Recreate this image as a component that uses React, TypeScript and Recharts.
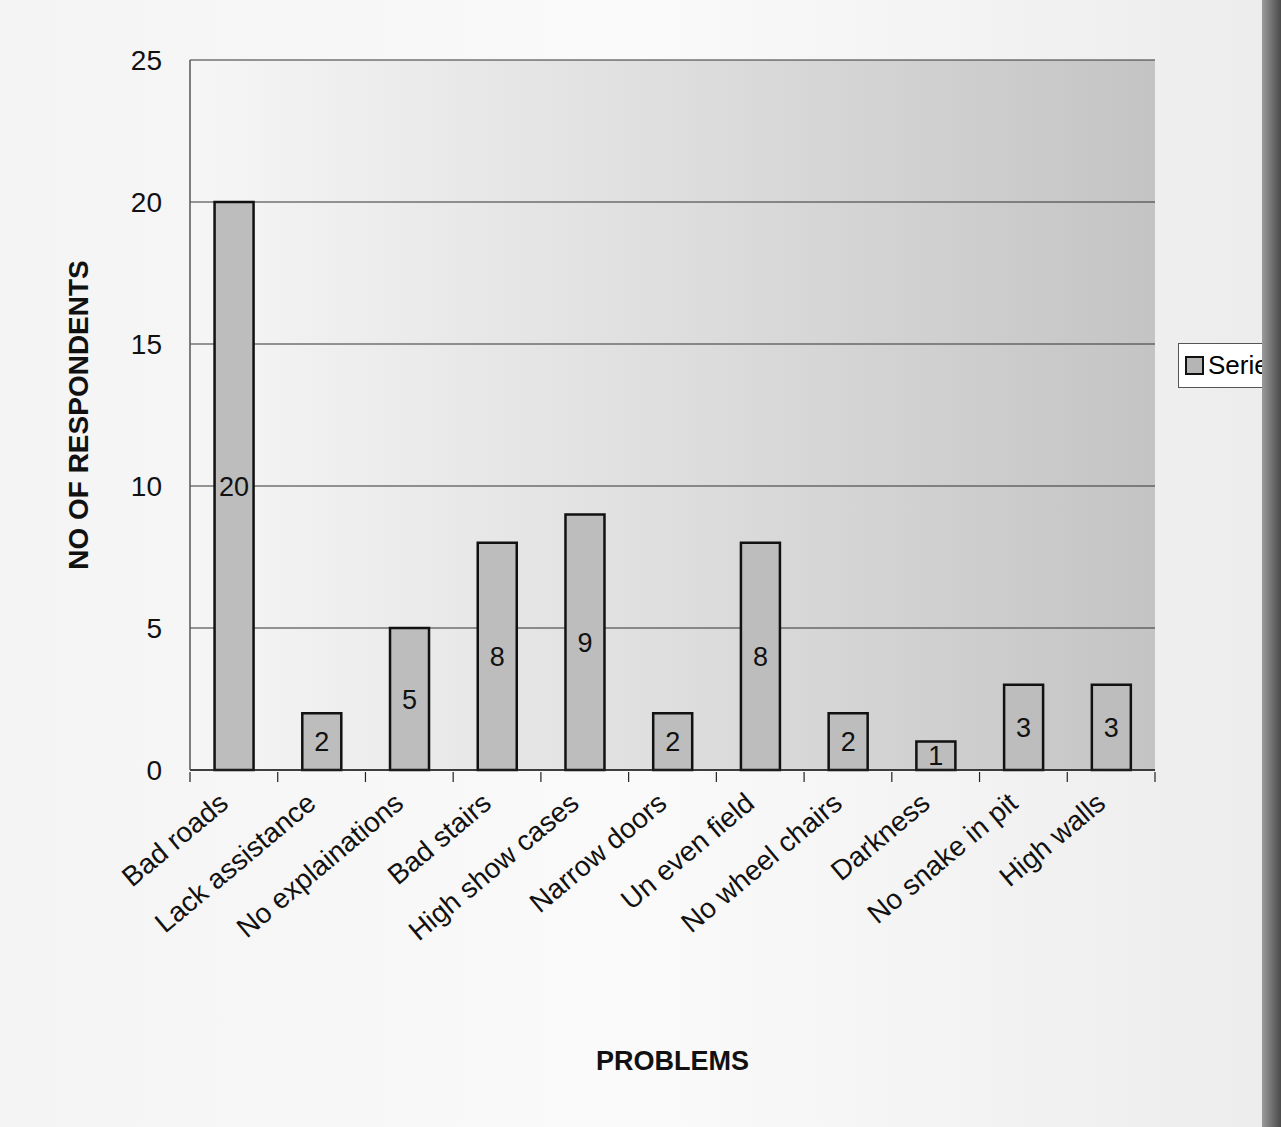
import React from 'react';
import { BarChart, Bar, XAxis, YAxis, CartesianGrid, LabelList, Label } from 'recharts';

const categories = [
  'Bad roads',
  'Lack assistance',
  'No explainations',
  'Bad stairs',
  'High show cases',
  'Narrow doors',
  'Un even field',
  'No wheel chairs',
  'Darkness',
  'No snake in pit',
  'High walls',
];
const series1 = [20, 2, 5, 8, 9, 2, 8, 2, 1, 3, 3];
const yTicks = [0, 5, 10, 15, 20, 25];

const data = categories.map((name, i) => ({ name, Series1: series1[i] }));

const FONT = 'Liberation Sans, Arial, sans-serif';
const CHART_W = 1262;
const CHART_H = 1127;
const MARGIN = { top: 60, right: 107, left: 90, bottom: 107 };
const Y_AXIS_W = 100;
const X_AXIS_H = 250;
const BAND = (CHART_W - MARGIN.left - MARGIN.right - Y_AXIS_W) / categories.length;

// category label plus the small divider tick between categories (Excel style)
const CategoryTick = (props: any) => {
  const { x, y, payload, index } = props;
  const isLast = index === categories.length - 1;
  return (
    <g>
      <line x1={x - BAND / 2} x2={x - BAND / 2} y1={y - 8} y2={y + 2} stroke="#222" strokeWidth={1.2} />
      {isLast && (
        <line x1={x + BAND / 2} x2={x + BAND / 2} y1={y - 8} y2={y + 2} stroke="#222" strokeWidth={1.2} />
      )}
      <g transform={`translate(${x - 4},${y + 26})`}>
        <text textAnchor="end" transform="rotate(-40)" fontSize={28} fontFamily={FONT} fill="#111">
          {payload.value}
        </text>
      </g>
    </g>
  );
};

export default function App() {
  return (
    <div
      style={{
        position: 'absolute',
        left: 0,
        top: 0,
        width: 1281,
        height: 1127,
        overflow: 'hidden',
        background: 'linear-gradient(90deg, #f4f4f4 0%, #fafafa 50%, #ececec 100%)',
      }}
    >
      <div style={{ position: 'absolute', left: 0, top: 0, width: CHART_W, height: CHART_H, overflow: 'hidden' }}>
        <BarChart width={CHART_W} height={CHART_H} data={data} margin={MARGIN} barCategoryGap="28%">
          <defs>
            <linearGradient id="plotBg" x1="0" y1="0" x2="1" y2="0">
              <stop offset="0%" stopColor="#f6f6f6" />
              <stop offset="50%" stopColor="#dedede" />
              <stop offset="100%" stopColor="#c4c4c4" />
            </linearGradient>
          </defs>
          <CartesianGrid vertical={false} stroke="#333" strokeWidth={1} fill="url(#plotBg)" fillOpacity={1} />
          <XAxis
            dataKey="name"
            interval={0}
            tick={<CategoryTick />}
            tickLine={false}
            tickSize={8}
            axisLine={{ stroke: '#222', strokeWidth: 1.5 }}
            height={X_AXIS_H}
          >
            <Label
              value="PROBLEMS"
              position="insideBottom"
              offset={-50}
              style={{ fontSize: 27, fontWeight: 'bold', fontFamily: FONT, fill: '#111' }}
            />
          </XAxis>
          <YAxis
            domain={[0, 25]}
            ticks={yTicks}
            tickLine={false}
            axisLine={{ stroke: '#555', strokeWidth: 1.5 }}
            tick={{ fontSize: 28, fontFamily: FONT, fill: '#111' }}
            tickMargin={22}
            width={Y_AXIS_W}
          >
            <Label
              value="NO OF RESPONDENTS"
              angle={-90}
              position="insideLeft"
              offset={-12}
              style={{ textAnchor: 'middle', fontSize: 28, fontWeight: 'bold', fontFamily: FONT, fill: '#111' }}
            />
          </YAxis>
          <Bar dataKey="Series1" fill="#bdbdbd" stroke="#111" strokeWidth={2.5} isAnimationActive={false}>
            <LabelList
              dataKey="Series1"
              position="center"
              style={{ fontSize: 27, fontFamily: FONT, fill: '#111' }}
            />
          </Bar>
        </BarChart>
        <div
          style={{
            position: 'absolute',
            left: 1178,
            top: 343,
            border: '1px solid #555',
            background: '#fff',
            padding: '6px 10px 6px 6px',
            display: 'flex',
            alignItems: 'center',
            fontFamily: FONT,
            fontSize: 26,
            whiteSpace: 'nowrap',
            width: 120,
          }}
        >
          <span
            style={{
              display: 'inline-block',
              width: 15,
              height: 15,
              border: '2px solid #111',
              background: '#b5b5b5',
              marginRight: 4,
            }}
          />
          Series1
        </div>
      </div>
      <div
        style={{
          position: 'absolute',
          left: CHART_W,
          top: 0,
          width: 1281 - CHART_W,
          height: 1127,
          background: 'linear-gradient(90deg, #9a9a9a, #4a4a4a)',
        }}
      />
    </div>
  );
}
